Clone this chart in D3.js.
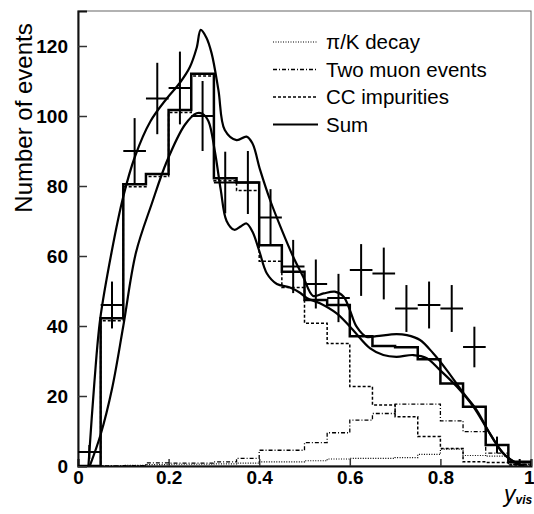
<!doctype html>
<html>
  <head>
    <script src="https://cdnjs.cloudflare.com/ajax/libs/d3/7.8.5/d3.min.js"></script>
    <style>
      body { margin: 0; background: #fff; }
      svg { font-family: "Liberation Sans", Arial, sans-serif; }
      .tick-label { font-size: 19px; font-weight: bold; fill: #000; }
      .legend text { font-size: 20.5px; fill: #000; }
      .hist { fill: none; stroke: #000; }
    </style>
  </head>
  <body>
    <svg id="chart" width="534" height="514"></svg>
    <script>
      // bins of y_vis, width 0.05
      var binLow = [0, 0.05, 0.1, 0.15, 0.2, 0.25, 0.3, 0.35, 0.4, 0.45,
                    0.5, 0.55, 0.6, 0.65, 0.7, 0.75, 0.8, 0.85, 0.9, 0.95];
      var binWidth = 0.05;

      // measured events with errors
      var dataY   = [4, 46, 90, 105, 108, 100, 81, 81, 71, 57, 52, 48, 56, 55, 45, 46, 45, 34, 6, 1];
      var dataErr = [2, 6.7, 9.4, 10.2, 10.4, 10, 8.8, 9, 8.1, 7.6, 7, 6.9, 7.4, 7.4, 6.7, 6.7, 6.7, 5.8, 2.4, 1];

      // Monte Carlo histograms
      var sumHist  = [0, 42.2, 80.5, 83.4, 101.7, 112.1, 82.2, 81, 63.1, 55.5, 47.4, 46, 37.1, 34.3, 33.9, 30.5, 23.6, 16.9, 6, 1.2];
      var ccHist   = [0, 41.5, 79.8, 82.7, 101, 111.4, 81.5, 78.7, 58.5, 51, 40.8, 35, 22.7, 17.4, 14.1, 8.4, 5, 1.2, 1, 0.3];
      var muonHist = [0, 0, 0.1, 0.9, 0.8, 0.8, 1.2, 2.2, 4.5, 4.5, 6.7, 9.5, 13.1, 15, 17.7, 17.7, 12.9, 9.8, 3.7, 0.5];
      var pikHist  = [0, 0, 0.2, 0.4, 0.5, 0.5, 0.6, 0.8, 1.2, 1.2, 1.5, 2.0, 2.2, 2.2, 2.4, 3.3, 4.8, 3.0, 2.8, 0.5];

      // smooth curves (upper and lower)
      var upperX = [0.023, 0.036, 0.049, 0.074, 0.1, 0.126, 0.16, 0.196, 0.225, 0.247, 0.262, 0.271, 0.283, 0.295, 0.31, 0.324,
                    0.35, 0.372, 0.385, 0.402, 0.424, 0.45, 0.475, 0.497, 0.519, 0.542, 0.567, 0.586, 0.6, 0.615,
                    0.637, 0.659, 0.703, 0.726, 0.755, 0.784, 0.814, 0.851, 0.88, 0.909, 0.939, 0.968, 0.985];
      var upperY = [0, 23.6, 42, 61, 77, 88.5, 98.5, 105, 109.5, 114, 119.5, 124.6, 122.5, 117.9, 107.4, 96,
                    93.1, 94.1, 92.2, 84.6, 76, 67.4, 59.8, 54.1, 48.6, 49.3, 49.8, 48.4, 44.6, 39.8,
                    36.9, 37.1, 37.7, 37.4, 36, 32.2, 27.4, 20.8, 16, 9.3, 3.6, 0.8, 0];
      var lowerX = [0.026, 0.05, 0.075, 0.1, 0.128, 0.163, 0.196, 0.236, 0.262, 0.275, 0.288, 0.302, 0.315, 0.328,
                    0.345, 0.36, 0.372, 0.385, 0.4, 0.417, 0.439, 0.468, 0.49, 0.505, 0.534, 0.571, 0.604,
                    0.645, 0.674, 0.703, 0.74, 0.77, 0.799, 0.836, 0.873, 0.909, 0.939, 0.968, 0.985];
      var lowerY = [0, 9, 22, 40, 61, 75, 87, 97.5, 100.8, 100.6, 98.5, 90, 79, 70,
                    67.5, 68.5, 69.3, 67, 61.5, 55, 52, 51, 49.5, 48, 46.5, 43.6, 39.3,
                    33.6, 31.7, 31.2, 31.7, 30.8, 27.4, 22.7, 16.9, 9.3, 3.6, 0.8, 0];

      var legendItems = [
        {name: "\u03c0/K decay", dash: "1,1.5", width: 1.2},
        {name: "Two muon events", dash: "4,2,1,2", width: 1.3},
        {name: "CC impurities", dash: "3,2", width: 1.5},
        {name: "Sum", dash: null, width: 2}
      ];

      var margin = {top: 11, right: 3, bottom: 48, left: 78};
      var width = 534 - margin.left - margin.right;
      var height = 514 - margin.top - margin.bottom;

      var svg = d3.select("#chart");
      var g = svg.append("g").attr("transform", "translate(" + margin.left + "," + margin.top + ")");

      var x = d3.scaleLinear().domain([0, 1]).range([0, width]);
      var y = d3.scaleLinear().domain([0, 130]).range([height, 0]);

      svg.append("defs").append("clipPath").attr("id", "clip")
        .append("rect").attr("width", width).attr("height", height);

      // frame: thin top / right
      g.append("rect").attr("width", width).attr("height", height)
        .attr("fill", "none").attr("stroke", "#666").attr("stroke-width", 1);

      // axes
      var xAxis = d3.axisBottom(x).tickValues([0, 0.2, 0.4, 0.6, 0.8, 1])
        .tickSize(-7).tickPadding(5).tickFormat(d3.format("~g"));
      var yAxis = d3.axisLeft(y).tickValues([0, 20, 40, 60, 80, 100, 120])
        .tickSize(-9).tickPadding(10);

      var gx = g.append("g").attr("transform", "translate(0," + height + ")").call(xAxis);
      var gy = g.append("g").call(yAxis);
      [gx, gy].forEach(function(a) {
        a.select(".domain").attr("stroke", "#111").attr("stroke-width", 2);
        a.selectAll(".tick line").attr("stroke", "#333").attr("stroke-width", 1.5);
        a.selectAll(".tick text").attr("class", "tick-label").attr("font-family", null).attr("font-size", null);
      });
      gy.selectAll(".tick text").attr("dy", "0.36em");
      // keep the "1" inside the picture
      gx.selectAll(".tick text").filter(function(d) { return d === 1; })
        .attr("text-anchor", "end").attr("dx", 3);

      var plot = g.append("g").attr("clip-path", "url(#clip)");

      function stepPoints(vals) {
        var pts = [[0, 0]];
        vals.forEach(function(v, i) {
          pts.push([binLow[i], v]);
          pts.push([binLow[i] + binWidth, v]);
        });
        pts.push([1, 0]);
        return pts;
      }
      var line = d3.line().x(function(d) { return x(d[0]); }).y(function(d) { return y(d[1]); });

      plot.append("path").attr("class", "hist").attr("d", line(stepPoints(pikHist)))
        .attr("stroke-width", 1.2).attr("stroke-dasharray", "1,1.5");
      plot.append("path").attr("class", "hist").attr("d", line(stepPoints(muonHist)))
        .attr("stroke-width", 1.3).attr("stroke-dasharray", "4,2,1,2");
      plot.append("path").attr("class", "hist").attr("d", line(stepPoints(ccHist)))
        .attr("stroke-width", 1.5).attr("stroke-dasharray", "3,2");
      plot.append("path").attr("class", "hist").attr("d", line(stepPoints(sumHist)))
        .attr("stroke-width", 2.5);

      var smooth = d3.line().curve(d3.curveCatmullRom.alpha(0.5))
        .x(function(d) { return x(d[0]); }).y(function(d) { return y(d[1]); });
      plot.append("path").attr("class", "hist").attr("stroke-width", 2.2)
        .attr("d", smooth(upperX.map(function(v, i) { return [v, upperY[i]]; })));
      plot.append("path").attr("class", "hist").attr("stroke-width", 2.2)
        .attr("d", smooth(lowerX.map(function(v, i) { return [v, lowerY[i]]; })));

      // data crosses
      var pts = plot.append("g").selectAll("g").data(dataY).enter().append("g");
      pts.append("line")
        .attr("x1", function(d, i) { return x(binLow[i]); })
        .attr("x2", function(d, i) { return x(binLow[i] + binWidth); })
        .attr("y1", function(d) { return y(d); })
        .attr("y2", function(d) { return y(d); })
        .attr("stroke", "#000").attr("stroke-width", 2);
      pts.append("line")
        .attr("x1", function(d, i) { return x(binLow[i] + binWidth / 2); })
        .attr("x2", function(d, i) { return x(binLow[i] + binWidth / 2); })
        .attr("y1", function(d, i) { return y(d + dataErr[i]); })
        .attr("y2", function(d, i) { return y(Math.max(0, d - dataErr[i])); })
        .attr("stroke", "#000").attr("stroke-width", 2);

      // legend
      var leg = svg.append("g").attr("class", "legend");
      legendItems.forEach(function(it, i) {
        var yy = 42 + i * 27.5;
        leg.append("line").attr("x1", 273).attr("x2", 318).attr("y1", yy).attr("y2", yy)
          .attr("stroke", "#000").attr("stroke-width", it.width)
          .attr("stroke-dasharray", it.dash);
        leg.append("text").attr("x", 326).attr("y", yy).attr("dy", "0.35em").text(it.name);
      });

      // axis titles
      svg.append("text")
        .attr("transform", "translate(32,118) rotate(-90)")
        .attr("text-anchor", "middle")
        .style("font-size", "24px")
        .text("Number of events");

      var xt = svg.append("text").attr("x", 504).attr("y", 502)
        .style("font-size", "23px").style("font-style", "italic");
      xt.append("tspan").text("y");
      xt.append("tspan").attr("dy", 2).style("font-size", "12px").style("font-weight", "bold").text("vis");
    </script>
  </body>
</html>
